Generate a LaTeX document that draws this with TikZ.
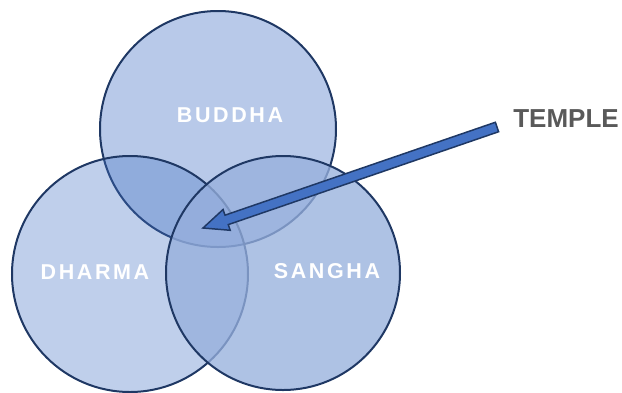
\documentclass[tikz,border=0pt]{standalone}
\usepackage{fontspec}
\setmainfont{Liberation Sans}
\usetikzlibrary{calc}
\definecolor{ringblue}{HTML}{4472C4}
\definecolor{sanghablue}{HTML}{96AFDC}
\definecolor{ringedge}{HTML}{1F3864}
\definecolor{labelgray}{HTML}{595959}
\newcommand{\spc}{\kern2.6pt}
\begin{document}
\begin{tikzpicture}[x=1pt,y=-1pt,
  ring/.style={circle, minimum size=236pt, inner sep=0pt, draw=ringedge, line width=2pt, fill=ringblue},
  ringlabel/.style={text=white, font=\fontsize{21.5}{22}\selectfont\bfseries},
  sidelabel/.style={text=labelgray, font=\fontsize{26}{28}\selectfont\bfseries},
  pointer/.style={fill=ringblue, draw=ringedge, line width=1.5pt, line join=miter}]
\useasboundingbox (0,0) rectangle (622,392);
\node[ring, fill opacity=0.38] (buddha) at (218,129) {};
\node[ring, fill opacity=0.34] (dharma) at (130,274) {};
\node[ring, fill=sanghablue, fill opacity=0.77, minimum size=234pt] (sangha) at (283,273) {};
\node[ringlabel] (lb) at (230,115) {B\spc U\spc D\spc D\spc H\spc A};
\node[ringlabel] (ld) at (95,272) {D\spc H\spc A\spc R\spc M\spc A};
\node[ringlabel] (ls) at (327,271) {S\spc A\spc N\spc G\spc H\spc A};
\node[sidelabel] (temple) at (566,119) {TEMPLE};
\coordinate (tail) at (497,127);
\coordinate (tip) at (203,228);
\coordinate (hb) at ($(tip)!25pt!(tail)$);
\draw[pointer] ($(tail)!5pt!90:(tip)$) -- ($(hb)!5pt!90:(tip)$) -- ($(hb)!11pt!90:(tip)$) -- (tip)
  -- ($(hb)!11pt!-90:(tip)$) -- ($(hb)!5pt!-90:(tip)$) -- ($(tail)!5pt!-90:(tip)$) -- cycle;
\end{tikzpicture}
\end{document}
